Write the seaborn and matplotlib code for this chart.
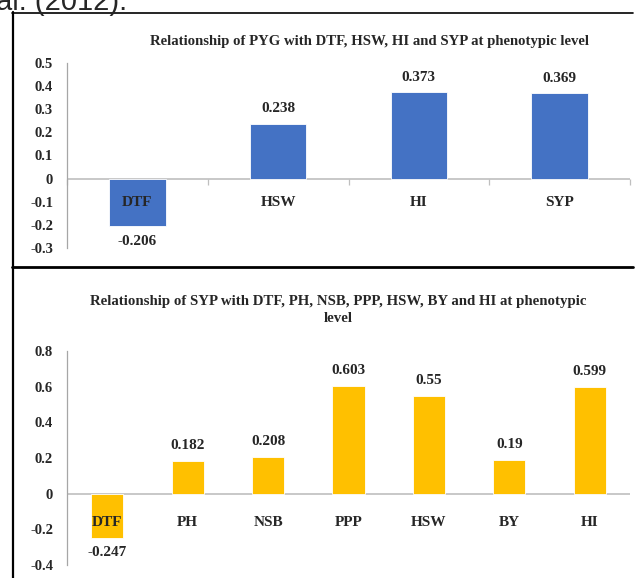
import matplotlib
matplotlib.use("Agg")
from matplotlib import pyplot as plt
from matplotlib.lines import Line2D
import seaborn as sns
import pandas as pd

# top panel: PYG correlations
top_cats = ["DTF", "HSW", "HI", "SYP"]
top_vals = [-0.206, 0.238, 0.373, 0.369]
top_labels = ["-0.206", "0.238", "0.373", "0.369"]
top_title = "Relationship of PYG with DTF, HSW, HI and SYP at phenotypic level"

# bottom panel: SYP correlations
bot_cats = ["DTF", "PH", "NSB", "PPP", "HSW", "BY", "HI"]
bot_vals = [-0.247, 0.182, 0.208, 0.603, 0.55, 0.19, 0.599]
bot_labels = ["-0.247", "0.182", "0.208", "0.603", "0.55", "0.19", "0.599"]
bot_title = "Relationship of SYP with DTF, PH, NSB, PPP, HSW, BY and HI at phenotypic\nlevel"

sns.set_style("white")
plt.rcParams["font.family"] = ["Liberation Serif", "DejaVu Serif"]

W, H = 635, 578
fig = plt.figure(figsize=(W / 100, H / 100), dpi=100)


def px_axes(x0, y_top, x1, y_bot):
    return fig.add_axes([x0 / W, 1 - y_bot / H, (x1 - x0) / W, (y_bot - y_top) / H])


def panel(ax, cats, vals, labels, color, ylim, yticks, cat_off, ticks):
    df = pd.DataFrame({"cat": cats, "val": vals})
    sns.barplot(data=df, x="cat", y="val", color=color, width=0.4,
                saturation=1, ax=ax, edgecolor="white", linewidth=0.6)
    n = len(cats)
    ax.set_xlim(-0.5, n - 0.5)
    ax.set_ylim(*ylim)
    ax.set_yticks(yticks)
    ax.set_yticklabels(["0" if abs(t) < 1e-9 else f"{t:.1f}" for t in yticks],
                       fontsize=10.5, fontweight="bold")
    ax.set_xticks([])
    ax.set_xlabel("")
    ax.set_ylabel("")
    for s in ["top", "right", "bottom"]:
        ax.spines[s].set_visible(False)
    ax.spines["left"].set_color("#a6a6a6")
    ax.spines["left"].set_linewidth(0.9)
    ax.axhline(0, color="#bfbfbf", lw=1.2, zorder=0.5)
    if ticks:
        ax.tick_params(axis="y", length=4, color="#a6a6a6", width=0.8, pad=6)
        for i in range(n + 1):
            ax.plot([i - 0.5], [0], marker=3, ms=4, color="#bfbfbf",
                    mew=0.9, clip_on=False)
    else:
        ax.tick_params(axis="y", length=0, pad=10)
    for i, (c, v, lab) in enumerate(zip(cats, vals, labels)):
        ax.annotate(c, (i, 0), xytext=(0, -cat_off), textcoords="offset points",
                    ha="center", va="center", fontsize=11, fontweight="bold")
        off = 11 if v > 0 else -11
        ax.annotate(lab, (i, v), xytext=(0, off), textcoords="offset points",
                    ha="center", va="center", fontsize=11, fontweight="bold")


ax1 = px_axes(67, 63, 630, 248)
panel(ax1, top_cats, top_vals, top_labels, "#4472C4", (-0.3, 0.5),
      [-0.3, -0.2, -0.1, 0, 0.1, 0.2, 0.3, 0.4, 0.5], 17, True)
fig.text(369 / W, 1 - 42 / H, top_title, ha="center", va="center",
         fontsize=10.6, fontweight="bold")

ax2 = px_axes(67, 351, 630, 565)
panel(ax2, bot_cats, bot_vals, bot_labels, "#FFC000", (-0.4, 0.8),
      [-0.4, -0.2, 0, 0.2, 0.4, 0.6, 0.8], 21, False)
fig.text(338 / W, 1 - 310 / H, bot_title, ha="center", va="center",
         fontsize=10.7, fontweight="bold", linespacing=1.5)

# page frame lines
fig.add_artist(Line2D([12.5 / W, 12.5 / W], [0, 1 - 12 / H], color="black", lw=1.6))
fig.add_artist(Line2D([12 / W, 633 / W], [1 - 13 / H, 1 - 13 / H], color="black", lw=1.2))
fig.add_artist(Line2D([12 / W, 633 / W], [1 - 267 / H, 1 - 267 / H], color="black", lw=2))

# surrounding page text (cut off at the top edge, as in the source page)
fig.text(-4 / W, 1 - 10 / H, "al. (2012).", ha="left", va="baseline",
         fontsize=21, family=["Liberation Sans", "DejaVu Sans"])

fig.savefig("out.png", dpi=100)
